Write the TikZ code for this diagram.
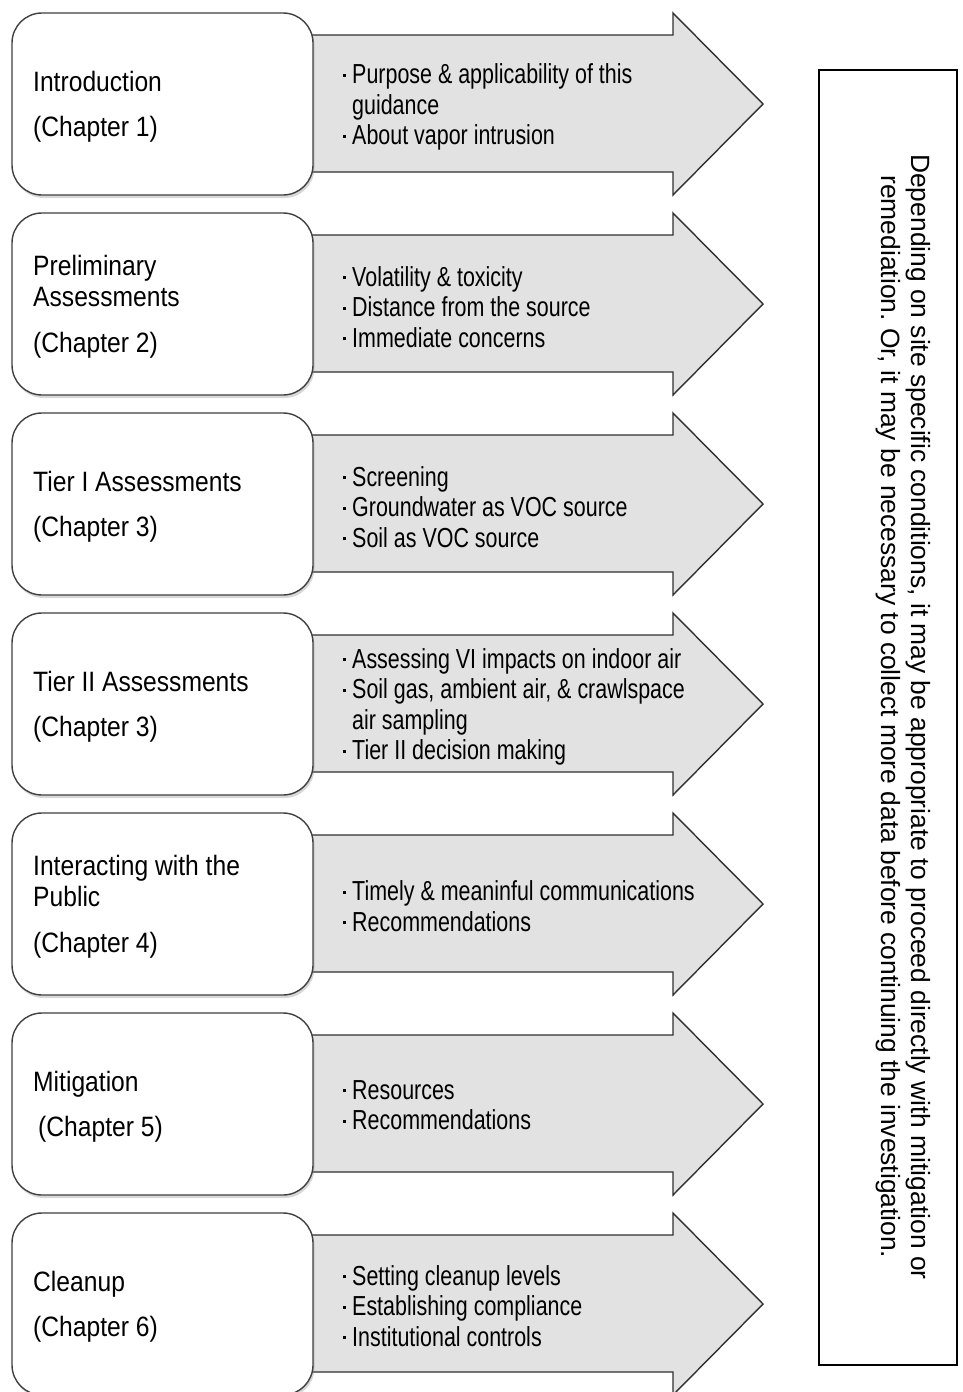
\documentclass[tikz,border=0pt]{standalone}
\usepackage{fontspec}
\setmainfont{Liberation Sans}
\newfontfamily\titlefont{Liberation Sans}[FakeStretch=0.88]
\newfontfamily\itemfont{Liberation Sans}[FakeStretch=0.78]
\usetikzlibrary{shadows}
\frenchspacing

\definecolor{boxline}{HTML}{404040}
\definecolor{arrowline}{HTML}{303030}
\definecolor{arrowfill}{HTML}{E2E2E2}

% small square bullet hung to the left of each topic line
\newcommand\itemdot{\llap{\raisebox{0.25em}{\rule{3pt}{3pt}}\hspace{6.3pt}}}

\tikzset{
  chapbox/.style={draw=boxline, line width=1.4pt, fill=white, rounded corners=30pt,
    minimum width=301pt, minimum height=182pt, inner sep=0pt,
    drop shadow={shadow xshift=1.5pt, shadow yshift=-3pt, opacity=0.3}},
  chaptitle/.style={anchor=west, inner sep=0pt, align=left,
    font=\titlefont\fontsize{28}{31}\selectfont},
  itemlist/.style={anchor=west, inner sep=0pt, align=left,
    font=\itemfont\fontsize{27.5}{30.5}\selectfont},
  arrowshape/.style={draw=arrowline, line width=1.4pt, fill=arrowfill, line join=miter},
  chaparrow/.pic={
    \draw[arrowshape] (-10,22) -- (360,22) -- (360,0) -- (450,91)
      -- (360,182) -- (360,159) -- (-10,159) -- cycle;
  },
  notebox/.style={draw=black, line width=1.3pt, fill=white,
    minimum width=138pt, minimum height=1295pt, inner sep=0pt},
  notetext/.style={rotate=-90, align=center, inner sep=0pt,
    font=\fontsize{26.4}{30}\selectfont},
}

\begin{document}
\begin{tikzpicture}[x=1pt, y=-1pt]
  \useasboundingbox (0,0) rectangle (962,1392);
  \fill[white] (0,0) rectangle (962,1392);

  % the seven chapter rows: arrow first, rounded box over its tail
  \foreach \k in {0,...,6} {
    \pic at (313, 13+200*\k) {chaparrow};
    \node[chapbox] (box\k) at (162.5, 104+200*\k) {};
  }

  % chapter titles
  \node[chaptitle] (title0) at (33,107) {Introduction\\[14pt](Chapter 1)};
  \node[chaptitle] (title1) at (33,307) {Preliminary\\Assessments\\[15pt](Chapter 2)};
  \node[chaptitle] (title2) at (33,507) {Tier I Assessments\\[14pt](Chapter 3)};
  \node[chaptitle] (title3) at (33,707) {Tier II Assessments\\[14pt](Chapter 3)};
  \node[chaptitle] (title4) at (33,907) {Interacting with the\\Public\\[15pt](Chapter 4)};
  \node[chaptitle] (title5) at (33,1107) {Mitigation\\[14pt]\hspace{5pt}(Chapter 5)};
  \node[chaptitle] (title6) at (33,1307) {Cleanup\\[14pt](Chapter 6)};

  % topics carried by each arrow
  \node[itemlist] (items0) at (352,107)
    {\itemdot Purpose \& applicability of this\\guidance\\\itemdot About vapor intrusion};
  \node[itemlist] (items1) at (352,307)
    {\itemdot Volatility \& toxicity\\\itemdot Distance from the source\\\itemdot Immediate concerns};
  \node[itemlist] (items2) at (352,507)
    {\itemdot Screening\\\itemdot Groundwater as VOC source\\\itemdot Soil as VOC source};
  \node[itemlist] (items3) at (352,707)
    {\itemdot Assessing VI impacts on indoor air\\\itemdot Soil gas, ambient air, \& crawlspace\\air sampling\\\itemdot Tier II decision making};
  \node[itemlist] (items4) at (352,906)
    {\itemdot Timely \& meaninful communications\\\itemdot Recommendations};
  \node[itemlist] (items5) at (352,1105)
    {\itemdot Resources\\\itemdot Recommendations};
  \node[itemlist] (items6) at (352,1306)
    {\itemdot Setting cleanup levels\\\itemdot Establishing compliance\\\itemdot Institutional controls};

  % side note
  \node[notebox] (note) at (888,717.5) {};
  \node[notetext] (notetxt) at (903,717)
    {Depending on site specific conditions, it may be appropriate to proceed directly with mitigation or\\
     remediation. Or, it may be necessary to collect more data before continuing the investigation.};
\end{tikzpicture}
\end{document}
